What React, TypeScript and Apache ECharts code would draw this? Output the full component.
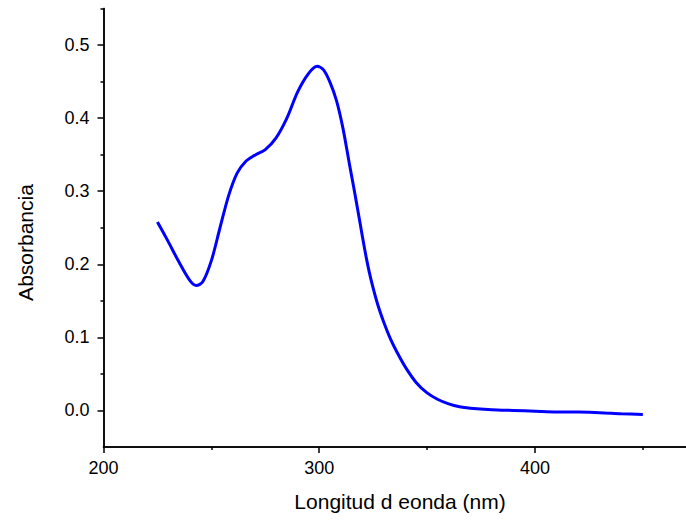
import React, { useEffect, useRef } from "react";
import * as echarts from "echarts";

const wavelength = [
  225, 230, 235, 240, 243, 246, 250, 254, 258, 262, 266, 270, 275, 280, 285,
  290, 295, 299, 302, 305, 308, 311, 314, 316, 318, 320, 322, 324, 327, 330,
  333, 336, 340, 345, 350, 355, 360, 365, 370, 380, 390, 400, 410, 420, 430,
  440, 450,
];
const absorbance = [
  0.258, 0.231, 0.203, 0.178, 0.171, 0.176, 0.205, 0.25, 0.294, 0.325, 0.341,
  0.349, 0.357, 0.373, 0.4, 0.436, 0.461, 0.471, 0.466, 0.449, 0.424, 0.386,
  0.337, 0.305, 0.272, 0.238, 0.206, 0.179, 0.146, 0.12, 0.098, 0.08, 0.059,
  0.038, 0.024, 0.015, 0.009, 0.005, 0.003, 0.001, 0.0, -0.001, -0.002,
  -0.0022, -0.003, -0.0045, -0.0055,
];
const xMajorTicks = [200, 300, 400];
const xMinorTicks = [250, 350, 450];
const yMajorTicks = [0, 0.1, 0.2, 0.3, 0.4, 0.5];
const yMinorTicks = [0.05, 0.15, 0.25, 0.35, 0.45, 0.55];
const xTitle = "Longitud d eonda (nm)";
const yTitle = "Absorbancia";

const FONT = "Liberation Sans, Arial, sans-serif";

export default function App() {
  const ref = useRef<HTMLDivElement>(null);
  useEffect(() => {
    if (!ref.current) return;
    const chart = echarts.init(ref.current, null, { renderer: "svg" });
    const axisLine = { show: true, onZero: false, lineStyle: { color: "#000", width: 1.5 } };
    const xMin = 200, xMax = 470, yMin = -0.05, yMax = 0.55;
    chart.setOption({
      animation: false,
      backgroundColor: "#fff",
      grid: { left: 103.5, right: 0, top: 8.5, bottom: 73, containLabel: false },
      xAxis: [
        {
          type: "value",
          min: xMin,
          max: xMax,
          position: "bottom",
          axisLine,
          splitLine: { show: false },
          axisTick: { show: true, customValues: xMajorTicks, length: 6, inside: false, lineStyle: { color: "#000", width: 1.5 } },
          axisLabel: { customValues: xMajorTicks, color: "#000", fontSize: 18, fontFamily: FONT, margin: 12 },
        },
        {
          type: "value",
          min: xMin,
          max: xMax,
          position: "bottom",
          axisLine,
          splitLine: { show: false },
          axisTick: { show: true, customValues: xMinorTicks, length: 3, inside: false, lineStyle: { color: "#000", width: 1.5 } },
          axisLabel: { show: false },
        },
      ],
      yAxis: [
        {
          type: "value",
          min: yMin,
          max: yMax,
          position: "left",
          axisLine,
          splitLine: { show: false },
          axisTick: { show: true, customValues: yMajorTicks, length: 6, inside: false, lineStyle: { color: "#000", width: 1.5 } },
          axisLabel: {
            customValues: yMajorTicks,
            color: "#000",
            fontSize: 18,
            fontFamily: FONT,
            margin: 14,
            formatter: (v: number) => v.toFixed(1),
          },
        },
        {
          type: "value",
          min: yMin,
          max: yMax,
          position: "left",
          axisLine,
          splitLine: { show: false },
          axisTick: { show: true, customValues: yMinorTicks, length: 3, inside: false, lineStyle: { color: "#000", width: 1.5 } },
          axisLabel: { show: false },
        },
      ],
      graphic: [
        {
          type: "text",
          x: 400,
          y: 501,
          style: {
            text: xTitle,
            fill: "#000",
            fontSize: 21,
            fontFamily: FONT,
            align: "center",
            verticalAlign: "middle",
          },
        },
        {
          type: "text",
          x: 25,
          y: 242.5,
          rotation: Math.PI / 2,
          style: {
            text: yTitle,
            fill: "#000",
            fontSize: 21,
            fontFamily: FONT,
            align: "center",
            verticalAlign: "middle",
          },
        },
      ],
      series: [
        {
          type: "line",
          xAxisIndex: 0,
          yAxisIndex: 0,
          data: wavelength.map((w, i) => [w, absorbance[i]]),
          smooth: 0.3,
          showSymbol: false,
          symbol: "none",
          lineStyle: { color: "#0000ff", width: 3 },
        },
      ],
    });
    return () => chart.dispose();
  }, []);
  return (
    <div
      ref={ref}
      style={{ position: "absolute", left: 0, top: 0, width: 686, height: 520 }}
    />
  );
}
